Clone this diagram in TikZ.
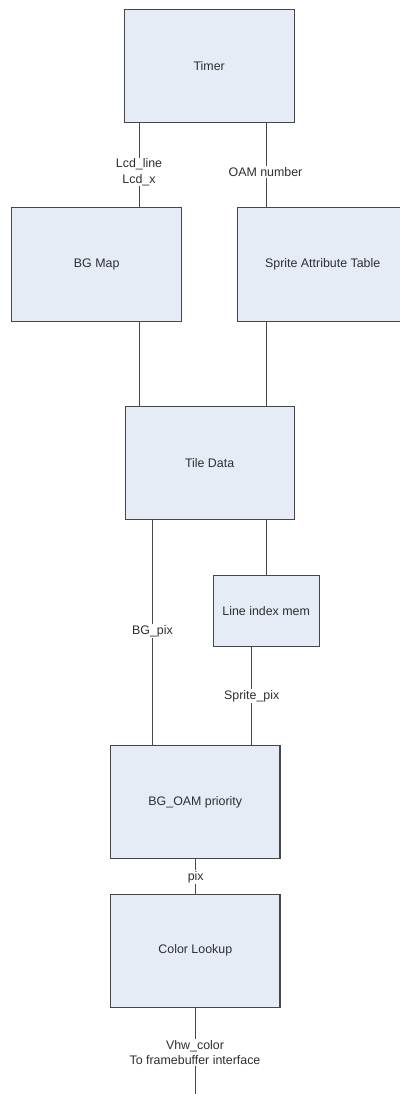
\documentclass[tikz,border=0pt]{standalone}
\usepackage{fontspec}
\setmainfont{Liberation Sans}
\definecolor{boxfill}{HTML}{E6ECF6}
\definecolor{boxline}{HTML}{474747}
\definecolor{txt}{HTML}{2E2E2E}
\begin{document}
\begin{tikzpicture}[x=1pt,y=-1pt,
  blk/.style={draw=boxline,line width=1.1pt,fill=boxfill,inner sep=0pt,text=txt,
    font=\fontsize{12.4}{15}\selectfont},
  wire/.style={draw=boxline,line width=1pt},
  lbl/.style={fill=white,inner sep=1pt,text=txt,align=center,
    font=\fontsize{12.4}{15.5}\selectfont}]
\useasboundingbox (0,0) rectangle (399,1094);
\node[blk,minimum width=169.7pt,minimum height=113pt] (timer) at (209.2,65.8) {Timer};
\node[blk,minimum width=170pt,minimum height=113.6pt] (bgmap) at (96.7,264.5) {BG Map};
\node[blk,minimum width=170pt,minimum height=113.6pt] (sat) at (322.7,264.5) {Sprite Attribute Table};
\node[blk,minimum width=169pt,minimum height=113pt] (tile) at (209.6,462.6) {Tile Data};
\node[blk,minimum width=105.7pt,minimum height=71pt] (lim) at (266.2,611.2) {Line index mem};
\node[blk,minimum width=169.3pt,minimum height=112.6pt] (prio) at (195.3,802) {BG\_OAM priority};
\node[blk,minimum width=169.3pt,minimum height=113.3pt] (clut) at (195.3,950.7) {Color Lookup};
\coordinate (xa) at (139,0);
\coordinate (xb) at (266,0);
\coordinate (xc) at (152.7,0);
\coordinate (xd) at (251.7,0);
\coordinate (xe) at (195.7,0);
\coordinate (out) at (195.7,1094);
% connectors
\draw[wire] (timer.south -| xa) -- (bgmap.north -| xa);
\draw[wire] (timer.south -| xb) -- (sat.north -| xb);
\draw[wire] (bgmap.south -| xa) -- (tile.north -| xa);
\draw[wire] (sat.south -| xb) -- (tile.north -| xb);
\draw[wire] (tile.south -| xc) -- (prio.north -| xc);
\draw[wire] (tile.south -| xb) -- (lim.north -| xb);
\draw[wire] (lim.south -| xd) -- (prio.north -| xd);
\draw[wire] (prio.south -| xe) -- (clut.north -| xe);
\draw[wire] (clut.south -| xe) -- (out);
% labels
\node[lbl] (l1) at (139,172) {Lcd\_line\\Lcd\_x};
\node[lbl] (l2) at (265.5,172) {OAM number};
\node[lbl] (l3) at (152.5,631) {BG\_pix};
\node[lbl] (l4) at (251.7,696) {Sprite\_pix};
\node[lbl] (l5) at (195.7,877) {pix};
\node[lbl] (l6) at (195,1052.5) {Vhw\_color\\To framebuffer interface};
\end{tikzpicture}
\end{document}
